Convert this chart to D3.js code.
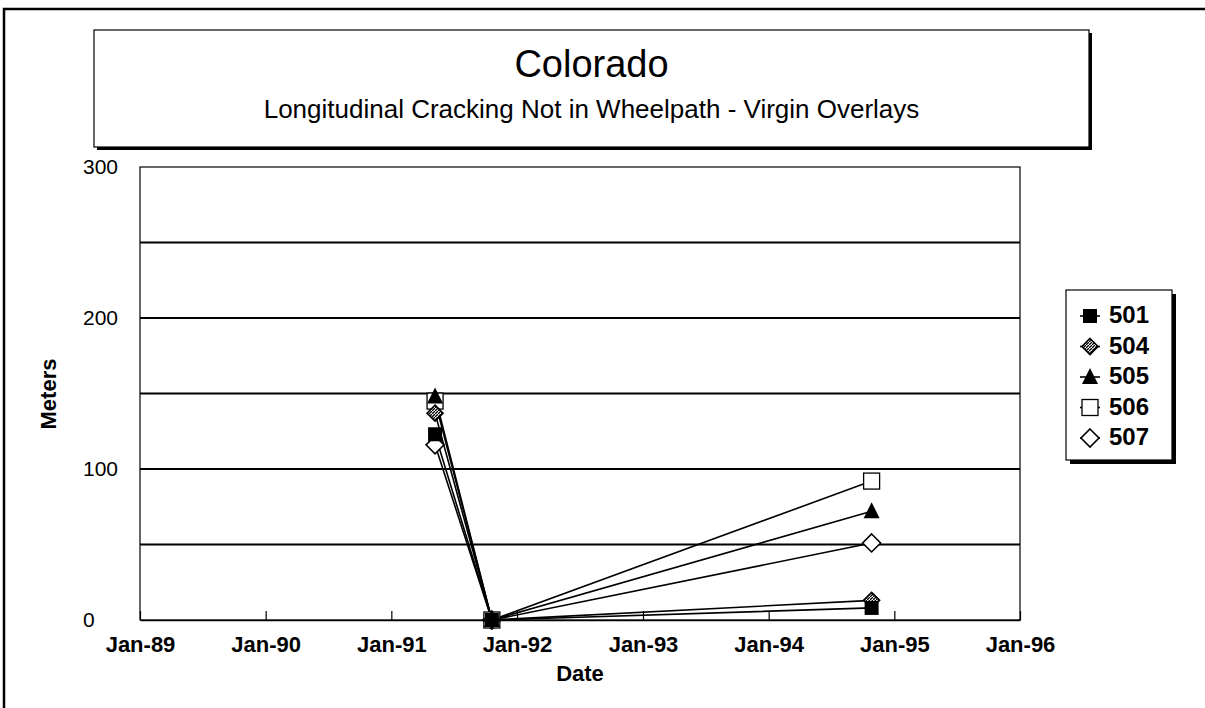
<!DOCTYPE html>
<html><head><meta charset="utf-8">
<script src="https://cdn.jsdelivr.net/npm/d3@7"></script>
<style>body{margin:0;background:#fff;overflow:hidden;} svg{display:block;font-family:"Liberation Sans",Arial,sans-serif;}</style>
</head><body>
<script>
const dates = ["1991-05-08", "1991-10-20", "1994-10-27"];
const seriesNames = ["501", "504", "505", "506", "507"];
const s501 = [123, 0, 8];
const s504 = [137, 0, 13];
const s505 = [148, 0, 72];
const s506 = [145, 0, 92];
const s507 = [116, 0, 51];
const yTickLabels = [0, 100, 200, 300];
const gridValues = [50, 100, 150, 200, 250];
const xTickLabels = ["Jan-89","Jan-90","Jan-91","Jan-92","Jan-93","Jan-94","Jan-95","Jan-96"];
const seriesValues = [s501, s504, s505, s506, s507];

const W = 1205, H = 708;
const FONT = "Liberation Sans, Arial, sans-serif";
const svg = d3.select("body").append("svg").attr("width", W).attr("height", H);

const defs = svg.append("defs");
const pat = defs.append("pattern").attr("id","hatch").attr("patternUnits","userSpaceOnUse").attr("width",3).attr("height",3);
pat.append("rect").attr("width",3).attr("height",3).attr("fill","#fff");
pat.append("path").attr("d","M0,3 L3,0").attr("stroke","#000").attr("stroke-width",1.3);

// outer frame (left and top edges)
svg.append("path").attr("d","M4,708 L4,9 L1205,9").attr("fill","none").attr("stroke","#000").attr("stroke-width",2.5);

// title box with shadow
const tb = {x:94, y:30, w:995, h:117};
svg.append("rect").attr("x",tb.x+3).attr("y",tb.y+3).attr("width",tb.w).attr("height",tb.h).attr("fill","#000");
svg.append("rect").attr("x",tb.x).attr("y",tb.y).attr("width",tb.w).attr("height",tb.h).attr("fill","#fff").attr("stroke","#000").attr("stroke-width",1.2);
svg.append("text").attr("x",tb.x+tb.w/2).attr("y",77).attr("text-anchor","middle").attr("font-size",38).text("Colorado");
svg.append("text").attr("x",tb.x+tb.w/2).attr("y",118).attr("text-anchor","middle").attr("font-size",26).text("Longitudinal Cracking Not in Wheelpath - Virgin Overlays");

// scales
const parse = d3.timeParse("%Y-%m-%d");
const x = d3.scaleTime().domain([new Date(1989,0,1), new Date(1996,0,1)]).range([140, 1020]);
const y = d3.scaleLinear().domain([0, 300]).range([620, 167]);

// plot border
svg.append("rect").attr("x",140).attr("y",167).attr("width",880).attr("height",453).attr("fill","none").attr("stroke","#000").attr("stroke-width",1.2);

// gridlines
svg.append("g").selectAll("line").data(gridValues).join("line")
  .attr("x1",140).attr("x2",1020).attr("y1",d=>y(d)).attr("y2",d=>y(d))
  .attr("stroke","#000").attr("stroke-width",2);

// x axis
const xTicks = xTickLabels.map((t,i)=>new Date(1989+i,0,1));
const xAxis = d3.axisBottom(x).tickValues(xTicks).tickFormat((d,i)=>xTickLabels[i]).tickSizeInner(-9).tickSizeOuter(0).tickPadding(16);
const gx = svg.append("g").attr("transform","translate(0,620)").call(xAxis);
gx.select(".domain").attr("stroke","#000").attr("stroke-width",1.5);
gx.selectAll(".tick line").attr("stroke","#000").attr("stroke-width",1.2);
gx.selectAll("text").attr("font-size",22).attr("font-weight","bold").attr("fill","#000").attr("font-family",FONT);

// y axis (labels left-aligned as in the reference)
const yAxis = d3.axisLeft(y).tickValues(yTickLabels).tickSize(0).tickPadding(0);
const gy = svg.append("g").attr("transform","translate(83,0)").call(yAxis);
gy.select(".domain").remove();
gy.selectAll("text").attr("text-anchor","start").attr("font-size",21).attr("fill","#000").attr("font-family",FONT);

// axis titles
svg.append("text").attr("x",580).attr("y",681).attr("text-anchor","middle").attr("font-size",22).attr("font-weight","bold").text("Date");
svg.append("text").attr("transform","translate(56,394) rotate(-90)").attr("text-anchor","middle").attr("font-size",22).attr("font-weight","bold").text("Meters");

// lines
const line = d3.line().x((d,i)=>x(parse(dates[i]))).y(d=>y(d));
svg.append("g").selectAll("path").data(seriesValues).join("path")
  .attr("d", d=>line(d)).attr("fill","none").attr("stroke","#000").attr("stroke-width",1.6);

// markers
function drawMarker(g, k, cx, cy) {
  if (k===0) g.append("rect").attr("x",cx-7).attr("y",cy-7).attr("width",14).attr("height",14).attr("fill","#000");
  else if (k===1) g.append("path").attr("d",`M${cx},${cy-8}L${cx+8},${cy}L${cx},${cy+8}L${cx-8},${cy}Z`).attr("fill","url(#hatch)").attr("stroke","#000").attr("stroke-width",1.6);
  else if (k===2) g.append("path").attr("d",`M${cx},${cy-9}L${cx+8},${cy+7}L${cx-8},${cy+7}Z`).attr("fill","#000");
  else if (k===3) g.append("rect").attr("x",cx-8).attr("y",cy-8).attr("width",16).attr("height",16).attr("fill","#fff").attr("stroke","#000").attr("stroke-width",1.3);
  else g.append("path").attr("d",`M${cx},${cy-9}L${cx+9},${cy}L${cx},${cy+9}L${cx-9},${cy}Z`).attr("fill","#fff").attr("stroke","#000").attr("stroke-width",1.6);
}
const mg = svg.append("g");
[4,3,2,1,0].forEach(k=>{
  seriesValues[k].forEach((v,i)=>drawMarker(mg,k,x(parse(dates[i])),y(v)));
});

// legend
const lg = {x:1066, y:290, w:106, h:170};
svg.append("rect").attr("x",lg.x+4).attr("y",lg.y+4).attr("width",lg.w).attr("height",lg.h).attr("fill","#000");
svg.append("rect").attr("x",lg.x).attr("y",lg.y).attr("width",lg.w).attr("height",lg.h).attr("fill","#fff").attr("stroke","#000").attr("stroke-width",1.2);
const legY = d3.scalePoint().domain(seriesNames).range([314, 436]);
seriesNames.forEach((n,k)=>{
  const cy = legY(n);
  const g = svg.append("g");
  g.append("line").attr("x1",1080).attr("x2",1100).attr("y1",cy+2).attr("y2",cy+2).attr("stroke","#000").attr("stroke-width",1.6);
  drawMarker(g,k,1090,cy+2);
  g.append("text").attr("x",1109).attr("y",cy+9).attr("font-size",24).attr("font-weight","bold").text(n);
});
</script>
</body></html>
